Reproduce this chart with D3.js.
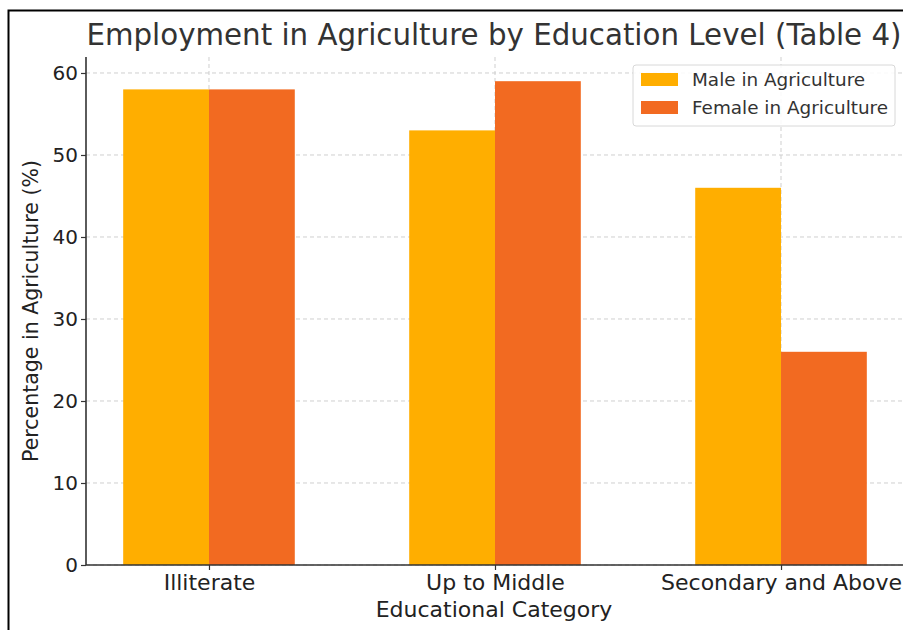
<!DOCTYPE html>
<html>
<head>
<meta charset="utf-8">
<script src="https://cdn.jsdelivr.net/npm/d3@7"></script>
<style>
  body { margin: 0; background: #fff; }
  svg { display: block; font-family: "DejaVu Sans", sans-serif; }
</style>
</head>
<body>
<svg id="chart" width="903" height="630"></svg>
<script>
var categories = ["Illiterate", "Up to Middle", "Secondary and Above"];
var maleValues = [58, 53, 46];
var femaleValues = [58, 59, 26];
var seriesNames = ["Male in Agriculture", "Female in Agriculture"];
var yTicks = [0, 10, 20, 30, 40, 50, 60];

var colors = ["#ffae00", "#f26a21"];
var svg = d3.select("#chart");

// frame round the picture
svg.append("path")
    .attr("d", "M8.5 630 L8.5 10.5 L903 10.5")
    .attr("fill", "none")
    .attr("stroke", "#000")
    .attr("stroke-width", 2);

var plotL = 86, plotR = 904, plotT = 57, plotB = 565;

// numeric x: category i at i, bars 0.3 wide
var x = d3.scaleLinear().domain([-0.43, 2.43]).range([plotL, plotR]);
var y = d3.scaleLinear().domain([0, 61.95]).range([plotB, plotT]);

var g = svg.append("g");

// grid
g.selectAll(".hgrid").data(yTicks).enter().append("line")
    .attr("x1", plotL).attr("x2", plotR)
    .attr("y1", function (d) { return y(d); })
    .attr("y2", function (d) { return y(d); })
    .attr("stroke", "#cfcfcf").attr("stroke-dasharray", "4,3").attr("stroke-width", 1);
g.selectAll(".vgrid").data(categories).enter().append("line")
    .attr("x1", function (d, i) { return x(i); })
    .attr("x2", function (d, i) { return x(i); })
    .attr("y1", plotT).attr("y2", plotB)
    .attr("stroke", "#cfcfcf").attr("stroke-dasharray", "4,3").attr("stroke-width", 1);

var series = [maleValues, femaleValues];
series.forEach(function (vals, s) {
    g.selectAll(".bar" + s).data(vals).enter().append("rect")
        .attr("x", function (d, i) { return x(i - 0.3 + s * 0.3); })
        .attr("width", x(0.3) - x(0))
        .attr("y", function (d) { return y(d); })
        .attr("height", function (d) { return plotB - y(d); })
        .attr("fill", colors[s]);
});

// axes
var yAxis = d3.axisLeft(y).tickValues(yTicks).tickSize(5).tickPadding(3);
var yg = svg.append("g").attr("transform", "translate(" + plotL + ",0)").call(yAxis);
var xAxis = d3.axisBottom(x).tickValues([0, 1, 2])
    .tickFormat(function (d) { return categories[d]; }).tickSize(5).tickPadding(4);
var xg = svg.append("g").attr("transform", "translate(0," + plotB + ")").call(xAxis);

[yg, xg].forEach(function (ax) {
    ax.select(".domain").attr("stroke", "#333").attr("stroke-width", 1.6);
    ax.selectAll(".tick line").attr("stroke", "#333").attr("stroke-width", 1.2);
    ax.selectAll(".tick text").attr("fill", "#222").style("font-size", "20px")
        .style("font-family", "DejaVu Sans, sans-serif");
});
xg.selectAll(".tick text").style("font-size", "22px");
yg.select(".domain").attr("d", "M0," + plotT + "V" + plotB);
xg.select(".domain").attr("d", "M" + plotL + ",0H" + plotR);

// titles
svg.append("text").attr("x", 494).attr("y", 45).attr("text-anchor", "middle")
    .attr("fill", "#333").style("font-size", "29.3px")
    .text("Employment in Agriculture by Education Level (Table 4)");
svg.append("text").attr("x", 494).attr("y", 617).attr("text-anchor", "middle")
    .attr("fill", "#222").style("font-size", "22px").text("Educational Category");
svg.append("text").attr("transform", "translate(38," + ((plotT + plotB) / 2 + 0) + ") rotate(-90)")
    .attr("text-anchor", "middle").attr("fill", "#222").style("font-size", "20.5px")
    .text("Percentage in Agriculture (%)");

// legend
var lg = svg.append("g").attr("transform", "translate(633,65)");
lg.append("rect").attr("width", 262).attr("height", 61).attr("rx", 3)
    .attr("fill", "#fff").attr("fill-opacity", 0.85)
    .attr("stroke", "#d8d8d8").attr("stroke-width", 1);
seriesNames.forEach(function (name, i) {
    lg.append("rect").attr("x", 8).attr("y", 8 + i * 28).attr("width", 37).attr("height", 13)
        .attr("fill", colors[i]);
    lg.append("text").attr("x", 59).attr("y", 21 + i * 28)
        .attr("fill", "#333").style("font-size", "18.4px").text(name);
});
</script>
</body>
</html>
